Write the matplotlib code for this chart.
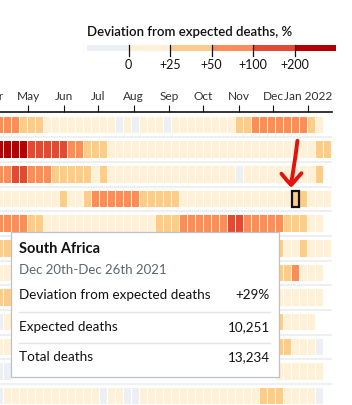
import numpy as np
import pandas as pd
import matplotlib
matplotlib.use("Agg")
import matplotlib.pyplot as plt
import matplotlib.dates as mdates
from matplotlib.colors import ListedColormap, BoundaryNorm
from matplotlib.path import Path
from matplotlib.patches import PathPatch, Rectangle
from matplotlib.ticker import FuncFormatter

plt.rcParams['font.family'] = ['Lato', 'DejaVu Sans']

# weekly columns (weeks starting on Monday)
week_start = pd.date_range('2021-04-05', periods=42, freq='7D')

# deviation from expected deaths, % - one list per country row, None = hidden under the tooltip
N = None
row1 = [70, 70, 70, 35, 35, 35, 10, 10, 10, 10, 10, 10, 10, 10, 10, -4, 10, -4, 10, 10, 10,
        -4, 10, 10, 10, 10, 10, 10, 10, 10, 35, 35, 70, 70, 70, 70, 70, 70, 70, 35, 10]
row2 = [260, 260, 260, 260, 140, 140, 140, 140, 140, 70, 70, 35, 35, 35, 10, 10, 10, 10, 10, 10, 10,
        10, 10, 10, 10, 10, 10, 10, 10, 10, 10, 10, 10, 10, 10, 10, 10, 10, 10, 10, 35, 35]
row3 = [70, 70, 140, 140, 70, 70, 70, 35, 35, 35, 35, 35, 10, 35, 10, 10, 10, 10, 10, 10, 10,
        10, 10, 10, 10, 10, 10, 10, 10, 10, -4, 10, 10, 10, 10, 10, 10, 10, 10, 10, 35]
# South Africa, expected / total deaths for the highlighted week
sa_expected = 10251
sa_total = 13234
sa_dev = round((sa_total / sa_expected - 1) * 100)
row4 = [10, 10, 10, 10, 10, 10, 10, 10, 35, 10, 10, 35, 70, 70, 70, 70, 70, 70, 35, 35, 35,
        35, 35, 10, 10, 10, 10, 10, 10, 10, 10, 10, 10, 10, 10, 10, 10, sa_dev, 35, 10, 10, 10]
row5 = [70, 70, 70, 70, 35, 35, 10, 10, 10, 10, 10, 10, 10, 10, 10, 10, 10, 10, 10, 10, 35,
        35, 35, 70, 70, 70, 70, 70, 70, 140, 140, 70, 70, 70, 70, 70, 35, 35, 35, 10, 10]
row6 = [35, 35, N, N, N, N, N, N, N, N, N, N, N, N, N, N, N, N, N, N, N,
        N, N, N, N, N, N, N, N, N, N, N, N, N, N, 35, 10, 10, 35, 10, 10, 10]
row7 = [10, 10, N, N, N, N, N, N, N, N, N, N, N, N, N, N, N, N, N, N, N,
        N, N, N, N, N, N, N, N, N, N, N, N, N, N, 35, 35, 70, 10, 10, 10]
row8 = [35, 35, N, N, N, N, N, N, N, N, N, N, N, N, N, N, N, N, N, N, N,
        N, N, N, N, N, N, N, N, N, N, N, N, N, N, 10, 10, 10, 10, 10, 10]
row9 = [-4, 10, N, N, N, N, N, N, N, N, N, N, N, N, N, N, N, N, N, N, N,
        N, N, N, N, N, N, N, N, N, N, N, N, N, N, 35, 10, 10, 10, 10]
row10 = [10, 10, N, N, N, N, N, N, N, N, N, N, N, N, N, N, N, N, N, N, N,
         N, N, N, N, N, N, N, N, N, N, N, N, N, N, 35, 35, 10, 10, 10, -4]
row11 = [-4, -4, N, N, N, N, N, N, N, N, N, N, N, N, N, N, N, N, N, N, N,
         N, N, N, N, N, N, N, N, N, N, N, N, N, N, 10, 10, 10, 10, 10, 10]
row12 = [-4, 10, 10, 10, 10, 10, 10, 10, 10, 10, 10, 10, 10, -4, 10, 10, -4, -4, 10, 10, 10,
         10, 10, 10, 10, 10, 10, 10, 10, 10, 10, 10, 10, 35, 35, 35, 10, 10, 10, 10, -4]
rows = [row1, row2, row3, row4, row5, row6, row7, row8, row9, row10, row11, row12]
highlight_row, highlight_week = 3, 37

# colour scale
bounds = [-1000, 0, 25, 50, 100, 200, 10000]
bin_colors = ['#ecf0f5', '#fef0d9', '#fdcc8a', '#fc8d59', '#e34a33', '#b30000']
bin_labels = ['0', '+25', '+50', '+100', '+200']
cmap = ListedColormap(bin_colors)
norm = BoundaryNorm(bounds, cmap.N)

W, H = 352, 405
fig = plt.figure(figsize=(W / 100, H / 100), dpi=100)

# heatmap axes: spine at y=112px, running from x=-12px to 332px
ax_left, ax_right, ax_top = -12, 332, 112
ax = fig.add_axes([ax_left / W, 0, (ax_right - ax_left) / W, 1 - ax_top / H])
px_day = 8 / 7
jan1 = mdates.date2num(pd.Timestamp('2022-01-01'))
ax.set_xlim(jan1 + (ax_left - 308.5) / px_day, jan1 + (ax_right - 308.5) / px_day)
ax.set_ylim(11.36, -0.53)

x0 = mdates.date2num(week_start) + 1
for i, r in enumerate(rows):
    xs = [x0[k] for k, v in enumerate(r) if v is not None]
    vs = [v for v in r if v is not None]
    ax.bar(xs, 0.67, width=6.125, bottom=i - 0.335, color=cmap(norm(vs)), linewidth=0, zorder=2)
for i in range(len(rows) - 1):
    ax.axhline(i + 0.5, color='#e9ebee', lw=1.1, zorder=1)

hv = rows[highlight_row][highlight_week]
hx = x0[highlight_week]
ax.add_patch(Rectangle((hx - 3.06, highlight_row - 0.335), 6.125, 0.67, facecolor=cmap(norm(hv)),
                       edgecolor='#111111', lw=1.6, zorder=3))

ax.xaxis.tick_top()
ax.xaxis.set_major_locator(mdates.MonthLocator())
ax.xaxis.set_major_formatter(FuncFormatter(
    lambda x, p: mdates.num2date(x).strftime('%b %Y' if mdates.num2date(x).month == 1 else '%b')))
ax.tick_params(axis='x', direction='out', length=5, width=0.8, pad=2, labelsize=8.6,
               labelcolor='#333333', color='#111111')
ax.set_yticks([])
for s in ['left', 'right', 'bottom']:
    ax.spines[s].set_visible(False)
ax.spines['top'].set_linewidth(1.2)
ax.spines['top'].set_color('#111111')

# overlay in pixel coordinates for legend, tooltip and arrow
ov = fig.add_axes([0, 0, 1, 1], zorder=5)
ov.set_xlim(0, W)
ov.set_ylim(H, 0)
ov.axis('off')

# legend
lx, lw_bin = 87, 41.5
ov.text(lx, 32, 'Deviation from expected deaths, %', fontsize=9.5, fontweight='semibold',
        color='#121212', va='center', ha='left')
for j, c in enumerate(bin_colors):
    ov.add_patch(Rectangle((lx + j * lw_bin, 45), lw_bin, 6, facecolor=c, lw=0))
for j, lab in enumerate(bin_labels):
    bx = lx + (j + 1) * lw_bin
    ov.plot([bx, bx], [45, 56], color='#111111', lw=0.9)
    ov.text(bx, 65, lab, fontsize=9, color='#121212', ha='center', va='center')

# tooltip
ov.add_patch(Rectangle((11, 232), 268, 145, facecolor='white', edgecolor='#b9c2cc', lw=0.9))
ov.text(19, 249, 'South Africa', fontsize=10.5, fontweight='bold', color='#121212', va='center')
ov.text(19, 270, 'Dec 20th-Dec 26th 2021', fontsize=9.5, color='#5c6670', va='center')
ov.text(19, 295, 'Deviation from expected deaths', fontsize=9.7, color='#121212', va='center')
ov.text(270, 295, f'+{sa_dev}%', fontsize=9.7, color='#121212', va='center', ha='right')
ov.plot([19, 270], [312, 312], color='#e2e5e9', lw=1)
ov.text(19, 327, 'Expected deaths', fontsize=9.7, color='#121212', va='center')
ov.text(270, 327, f'{sa_expected:,}', fontsize=9.7, color='#121212', va='center', ha='right')
ov.plot([19, 270], [343, 343], color='#e2e5e9', lw=1)
ov.text(19, 357, 'Total deaths', fontsize=9.7, color='#121212', va='center')
ov.text(270, 357, f'{sa_total:,}', fontsize=9.7, color='#121212', va='center', ha='right')

# hand drawn arrow pointing at the highlighted cell
cxd, ctd = ax.transData.transform((hx, highlight_row - 0.335))
cx, ct = cxd, H - ctd
red = '#e3120b'
shaft = Path([(cx + 1.5, ct - 50), (cx - 1.5, ct - 25), (cx - 5, ct - 6.5)],
             [Path.MOVETO, Path.CURVE3, Path.CURVE3])
left = Path([(cx - 14.5, ct - 17), (cx - 9, ct - 10), (cx - 5, ct - 6)],
            [Path.MOVETO, Path.CURVE3, Path.CURVE3])
right = Path([(cx + 5.5, ct - 17.5), (cx - 1, ct - 10), (cx - 4.5, ct - 6)],
             [Path.MOVETO, Path.CURVE3, Path.CURVE3])
for p in (shaft, left, right):
    ov.add_patch(PathPatch(p, facecolor='none', edgecolor=red, lw=2.8, capstyle='round',
                           joinstyle='round'))

fig.savefig('out.png', dpi=100)
